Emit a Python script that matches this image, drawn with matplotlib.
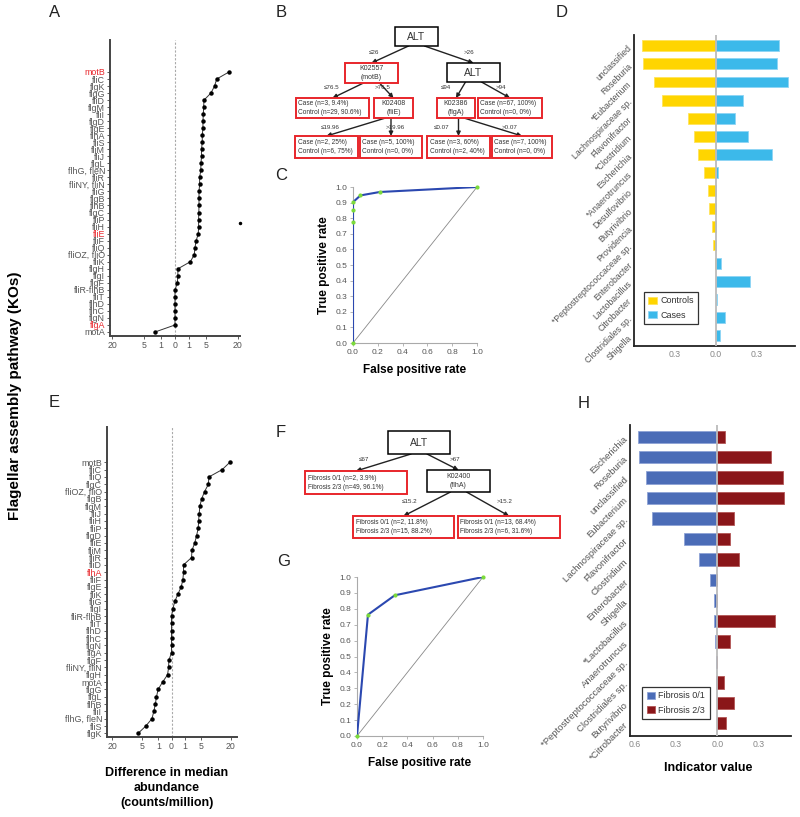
import numpy as np
import matplotlib.pyplot as plt
from matplotlib.patches import Rectangle

plt.rcParams['font.family'] = ['Liberation Sans', 'DejaVu Sans']

W, H = 800, 817
GRAY = '#555555'
RED = '#E8262B'

# ---- panel A: cases vs controls, median difference (counts/million)
genes_a = ['motB', 'fliC', 'flgK', 'flgG', 'fliD', 'flgM', 'fliI', 'flgD', 'flgE', 'flhA',
           'fliS', 'fliM', 'fliJ', 'flgL', 'flhG, fleN', 'fliR', 'fliNY, fliN', 'fliG', 'flgB',
           'flhB', 'flgC', 'fliP', 'fliH', 'fliE', 'fliF', 'fliQ', 'fliOZ, fliO', 'fliK', 'flgH',
           'flgI', 'flgF', 'fliR-flhB', 'fliT', 'flhD', 'flhC', 'flgN', 'flgA', 'motA']
diff_a = [14.9, 8.9, 8.0, 6.6, 4.3, 4.2, 4.1, 4.0, 4.0, 3.8,
          3.8, 3.6, 3.6, 3.45, 3.4, 3.1, 3.1, 2.95, 2.95,
          2.95, 2.9, 2.85, 2.85, 2.77, 2.3, 2.04, 1.9, 1.2, 0.046,
          0.04, 0.03, 0.0, 0.0, 0.0, 0.0, 0.0, 0.0, -2.04]
red_a = ['motB', 'fliE', 'flgA']
stray_a = (21.6, 21.5)

# ---- panel E: fibrosis 0/1 vs 2/3
genes_e = ['motB', 'fliC', 'fliQ', 'flgC', 'fliOZ, fliO', 'flgB', 'flgM', 'fliJ', 'fliH', 'fliP',
           'flgD', 'fliE', 'fliM', 'fliR', 'fliD', 'flhA', 'fliF', 'flgE', 'fliK', 'fliG',
           'flgI', 'fliR-flhB', 'fliT', 'flhD', 'flhC', 'flgN', 'flgA', 'flgF', 'fliNY, fliN',
           'flgH', 'motA', 'flgG', 'flgL', 'flhB', 'fliI', 'flhG, fleN', 'fliS', 'flgK']
diff_e = [19.5, 14.7, 8.0, 7.8, 6.25, 5.2, 4.6, 4.4, 4.2, 4.1,
          3.6, 3.1, 2.4, 2.3, 0.83, 0.83, 0.74, 0.54, 0.23, 0.06,
          0.01, 0.0, 0.0, 0.0, 0.0, 0.0, 0.0, -0.04, -0.05,
          -0.09, -0.46, -1.03, -1.3, -1.5, -1.8, -2.2, -3.8, -6.4]
red_e = ['flhA']

# ---- ROC curves
fpr_c = [0.0, 0.0, 0.0, 0.0, 0.06, 0.216, 1.0]
tpr_c = [0.0, 0.773, 0.85, 0.903, 0.946, 0.968, 1.0]
fpr_g = [0.0, 0.087, 0.30, 1.0]
tpr_g = [0.0, 0.763, 0.885, 1.0]

# ---- panel D: indicator values
genus_d = ['unclassified', 'Roseburia', '*Eubacterium', 'Lachnospiraceae sp.', 'Flavonifractor',
           '*Clostridium', 'Escherichia', '*Anaerotruncus', 'Desulfovibrio', 'Butyrivibrio',
           'Providencia', '*Peptostreptococcaceae sp.', 'Enterobacter', 'Lactobacillus',
           'Citrobacter', 'Clostridiales sp.', 'Shigella']
controls_d = [0.54, 0.535, 0.454, 0.395, 0.205, 0.161, 0.13, 0.088, 0.054, 0.047,
              0.027, 0.02, 0.005, 0, 0, 0, 0]
cases_d = [0.46, 0.45, 0.527, 0.20, 0.143, 0.239, 0.41, 0.015, 0, 0,
           0, 0, 0.037, 0.254, 0.012, 0.071, 0.034]

# ---- panel H
genus_h = ['Escherichia', 'Roseburia', 'unclassified', 'Eubacterium', 'Lachnospiraceae sp.',
           'Flavonifractor', 'Clostridium', 'Enterobacter', 'Shigella', '*Lactobacillus',
           'Anaerotruncus', '*Peptostreptococcaceae sp.', 'Clostridiales sp.', 'Butyrivibrio',
           '*Citrobacter']
fib01_h = [0.575, 0.568, 0.518, 0.506, 0.47, 0.243, 0.135, 0.055, 0.026, 0.022,
           0.019, 0.012, 0.012, 0, 0]
fib23_h = [0.056, 0.388, 0.473, 0.48, 0.116, 0.092, 0.152, 0, 0, 0.412,
           0.087, 0, 0.046, 0.116, 0.058]

# ---- decision trees: (box x0, y0, x1, y1 in px), text, edge colour
tree_b = [((395, 27, 438, 46), 'ALT', 'k'),
          ((345, 63, 398, 83), 'K02557\n(motB)', RED),
          ((447, 63, 500, 82), 'ALT', 'k'),
          ((296, 98, 369, 118), 'Case (n=3, 9.4%)\nControl (n=29, 90.6%)', RED),
          ((374, 98, 413, 118), 'K02408\n(fliE)', RED),
          ((437, 98, 475, 118), 'K02386\n(flgA)', RED),
          ((478, 98, 542, 118), 'Case (n=67, 100%)\nControl (n=0, 0%)', RED),
          ((295, 136, 358, 158), 'Case (n=2, 25%)\nControl (n=6, 75%)', RED),
          ((360, 136, 422, 158), 'Case (n=5, 100%)\nControl (n=0, 0%)', RED),
          ((427, 136, 490, 158), 'Case (n=3, 60%)\nControl (n=2, 40%)', RED),
          ((492, 136, 552, 158), 'Case (n=7, 100%)\nControl (n=0, 0%)', RED)]
edges_b = [(0, 1, '\u226426', (374, 52)), (0, 2, '>26', (469, 52)),
           (1, 3, '\u226476.5', (332, 87)), (1, 4, '>76.5', (383, 87)),
           (2, 5, '\u226494', (446, 87)), (2, 6, '>94', (501, 87)),
           (4, 7, '\u226419.96', (330, 127)), (4, 8, '>19.96', (395, 127)),
           (5, 9, '\u22640.07', (442, 127)), (5, 10, '>0.07', (510, 127))]
tree_f = [((388, 431, 450, 454), 'ALT', 'k'),
          ((305, 471, 407, 494), 'Fibrosis 0/1 (n=2, 3.9%)\nFibrosis 2/3 (n=49, 96.1%)', RED),
          ((427, 470, 490, 492), 'K02400\n(flhA)', 'k'),
          ((353, 516, 454, 538), 'Fibrosis 0/1 (n=2, 11.8%)\nFibrosis 2/3 (n=15, 88.2%)', RED),
          ((458, 516, 560, 538), 'Fibrosis 0/1 (n=13, 68.4%)\nFibrosis 2/3 (n=6, 31.6%)', RED)]
edges_f = [(0, 1, '\u226467', (364, 459)), (0, 2, '>67', (455, 459)),
           (2, 3, '\u226415.2', (410, 501)), (2, 4, '>15.2', (505, 501))]


def rect(x0, y0, x1, y1):
    return [x0 / W, 1 - y1 / H, (x1 - x0) / W, (y1 - y0) / H]


def fwd(x):
    return np.sign(x) * np.sqrt(np.abs(x))


def inv(x):
    return np.sign(x) * x ** 2


fig = plt.figure(figsize=(8, 8.17), dpi=100)
ov = fig.add_axes([0, 0, 1, 1])
ov.set_xlim(0, W)
ov.set_ylim(H, 0)
ov.axis('off')


def diff_panel(box, genes, vals, reds, ylim, xlim):
    ax = fig.add_axes(rect(*box))
    y = np.arange(len(genes))
    ax.set_xscale('function', functions=(fwd, inv))
    ax.plot(vals, y, '-', color='#333333', lw=0.7, marker='o', ms=2.2,
            mfc='k', mec='k', zorder=3)
    ax.axvline(0, color='#aaaaaa', lw=0.8, ls=(0, (2, 1.5)), zorder=1)
    ax.set_ylim(*ylim)
    ax.set_xlim(*xlim)
    ax.set_yticks(y)
    ax.set_yticklabels(genes, fontsize=6.4, color=GRAY)
    for lab in ax.get_yticklabels():
        if lab.get_text() in reds:
            lab.set_color(RED)
    ticks = [-20, -5, -1, 0, 1, 5, 20]
    ax.set_xticks(ticks)
    ax.set_xticklabels([str(abs(t)) for t in ticks], fontsize=6.3, color=GRAY)
    ax.xaxis.set_minor_locator(plt.NullLocator())
    ax.tick_params(length=2, width=0.6, color='#444444', pad=1.5)
    for s in ['top', 'right']:
        ax.spines[s].set_visible(False)
    for s in ['left', 'bottom']:
        ax.spines[s].set_color('#444444')
        ax.spines[s].set_linewidth(1.4)
    return ax


axA = diff_panel((110, 40, 240, 336), genes_a, diff_a, red_a, (37.57, -4.55), (-21.6, 21.6))
axA.plot(*stray_a, 'o', ms=1.5, color='k', clip_on=False)
axE = diff_panel((107, 427, 237, 737), genes_e, diff_e, red_e, (37.5, -4.82), (-23.9, 24.6))

# direction arrows
arrow_kw = dict(arrowstyle='-|>', color='#555555', lw=1.6, mutation_scale=7, shrinkA=0, shrinkB=0)
for txt, tx, ty, x0, x1, ay in [('Controls', 143, 48, 160, 132, 57), ('Cases', 202, 48, 189, 219, 57),
                                ('Fibrosis 0/1', 138, 438, 161, 133, 447),
                                ('Fibrosis 2/3', 209, 438, 185, 215, 447)]:
    ov.text(tx, ty, txt, fontsize=6.5, color=GRAY, ha='center', va='center')
    ov.annotate('', xy=(x1, ay), xytext=(x0, ay), arrowprops=arrow_kw)


def roc_panel(box, fpr, tpr):
    ax = fig.add_axes(rect(*box))
    ax.plot([0, 1], [0, 1], color='#888888', lw=0.6)
    ax.plot(fpr, tpr, color='#2B48B0', lw=1.5, zorder=3)
    ax.plot(fpr, tpr, 'o', ms=2, color='#7CDB3A', zorder=4, clip_on=False)
    ax.set_xlim(0, 1)
    ax.set_ylim(0, 1)
    ax.set_xticks(np.arange(0, 1.01, 0.2))
    ax.set_yticks(np.arange(0, 1.01, 0.1))
    ax.set_xticklabels(['%.1f' % v for v in np.arange(0, 1.01, 0.2)])
    ax.set_yticklabels(['%.1f' % v for v in np.arange(0, 1.01, 0.1)])
    ax.tick_params(labelsize=6, labelcolor=GRAY, length=2.5, width=0.6, color='#aaaaaa', pad=1.5)
    for s in ['top', 'right']:
        ax.spines[s].set_visible(False)
    for s in ['left', 'bottom']:
        ax.spines[s].set_color('#aaaaaa')
        ax.spines[s].set_linewidth(0.8)
    ax.set_xlabel('False positive rate', fontsize=8.5, fontweight='bold', labelpad=6)
    ax.set_ylabel('True positive rate', fontsize=8.5, fontweight='bold', labelpad=4)
    return ax


roc_panel((353, 187, 477, 343), fpr_c, tpr_c)
roc_panel((357, 577, 483, 736), fpr_g, tpr_g)


def ind_panel(box, cats, left, right, c_left, c_right, names, ylim, xlim, ticks, leg_at, fs):
    ax = fig.add_axes(rect(*box))
    y = np.arange(len(cats))
    ax.barh(y, -np.array(left), height=0.6, color=c_left[0], edgecolor=c_left[1], lw=0.6,
            label=names[0], zorder=2)
    ax.barh(y, right, height=0.6, color=c_right[0], edgecolor=c_right[1], lw=0.6,
            label=names[1], zorder=2)
    ax.axvline(0, color='#bbbbbb', lw=1.3, zorder=3)
    ax.set_ylim(*ylim)
    ax.set_xlim(*xlim)
    ax.set_yticks(y)
    ax.set_yticklabels(cats, rotation=45, ha='right', rotation_mode='anchor',
                       fontsize=fs, color=GRAY)
    ax.set_xticks(ticks)
    ax.set_xticklabels(['%.1f' % abs(t) for t in ticks], fontsize=6.3, color='#888888')
    ax.tick_params(length=0, pad=3)
    for s in ['top', 'right']:
        ax.spines[s].set_visible(False)
    for s in ['left', 'bottom']:
        ax.spines[s].set_color('#222222')
        ax.spines[s].set_linewidth(1.3)
    leg = ax.legend(loc='upper left', bbox_to_anchor=leg_at, borderaxespad=0, fontsize=6.5,
                    fancybox=False, framealpha=1, handlelength=0.9, handleheight=0.9,
                    handletextpad=0.4, borderpad=0.5, labelspacing=0.6)
    leg.get_frame().set_edgecolor('#333333')
    leg.get_frame().set_linewidth(0.9)
    for t in leg.get_texts():
        t.set_color('#333333')
    return ax


ind_panel((634, 35, 795, 346), genus_d, controls_d, cases_d,
          ('#FFD500', '#FFE45C'), ('#3CB9EA', '#8ED5F4'), ['Controls', 'Cases'],
          (16.57, -0.59), (-0.598, 0.58), [-0.3, 0, 0.3], (0.062, 0.174), 6.3)
ind_panel((630, 425, 791, 736), genus_h, fib01_h, fib23_h,
          ('#4B6CB7', '#8EA3D6'), ('#8A1619', '#B35656'), ['Fibrosis 0/1', 'Fibrosis 2/3'],
          (14.62, -0.57), (-0.632, 0.531), [-0.6, -0.3, 0, 0.3], (0.075, 0.158), 6.8)


def draw_tree(nodes, edges):
    for (x0, y0, x1, y1), txt, col in nodes:
        lw = 1.4 if col == RED else 1.1
        ov.add_patch(Rectangle((x0, y0), x1 - x0, y1 - y0, fill=True, fc='white',
                               ec=col, lw=lw, zorder=2))
        if txt.startswith('Case') or txt.startswith('Fibrosis'):
            ov.text(x0 + 2.5, (y0 + y1) / 2, txt, fontsize=4.7, color='#333333',
                    ha='left', va='center', linespacing=1.4, zorder=3)
        else:
            fs = 7.5 if txt == 'ALT' else 5.0
            ov.text((x0 + x1) / 2, (y0 + y1) / 2, txt, fontsize=fs, color='#333333',
                    ha='center', va='center', linespacing=1.35, zorder=3)
    for p, c, lab, (lx, ly) in edges:
        (px0, py0, px1, py1), _, _ = nodes[p]
        (cx0, cy0, cx1, cy1), _, _ = nodes[c]
        pc = (px0 + px1) / 2
        cc = (cx0 + cx1) / 2
        start = (pc + np.clip(cc - pc, -8, 8), py1)
        ov.annotate('', xy=(cc, cy0), xytext=start,
                    arrowprops=dict(arrowstyle='-|>', color='#222222', lw=1.0,
                                    mutation_scale=6, shrinkA=0, shrinkB=0), zorder=1)
        ov.text(lx, ly, lab, fontsize=4.5, color='#333333', ha='center', va='center')


draw_tree(tree_b, edges_b)
draw_tree(tree_f, edges_f)

# panel letters and shared labels
for letter, x, y in [('A', 55, 12), ('B', 281, 12), ('C', 281, 175), ('D', 562, 12),
                     ('E', 54, 402), ('F', 281, 432), ('G', 284, 562), ('H', 584, 403)]:
    ov.text(x, y, letter, fontsize=12, ha='center', va='center', color='#222222')

ov.text(15, 396, 'Flagellar assembly pathway (KOs)', rotation=90, fontsize=11,
        fontweight='bold', ha='center', va='center')
ov.text(167, 788, 'Difference in median\nabundance\n(counts/million)', fontsize=9,
        fontweight='bold', ha='center', va='center', linespacing=1.3)
ov.text(708, 768, 'Indicator value', fontsize=9, fontweight='bold', ha='center', va='center')

fig.savefig('out.png', dpi=100)
